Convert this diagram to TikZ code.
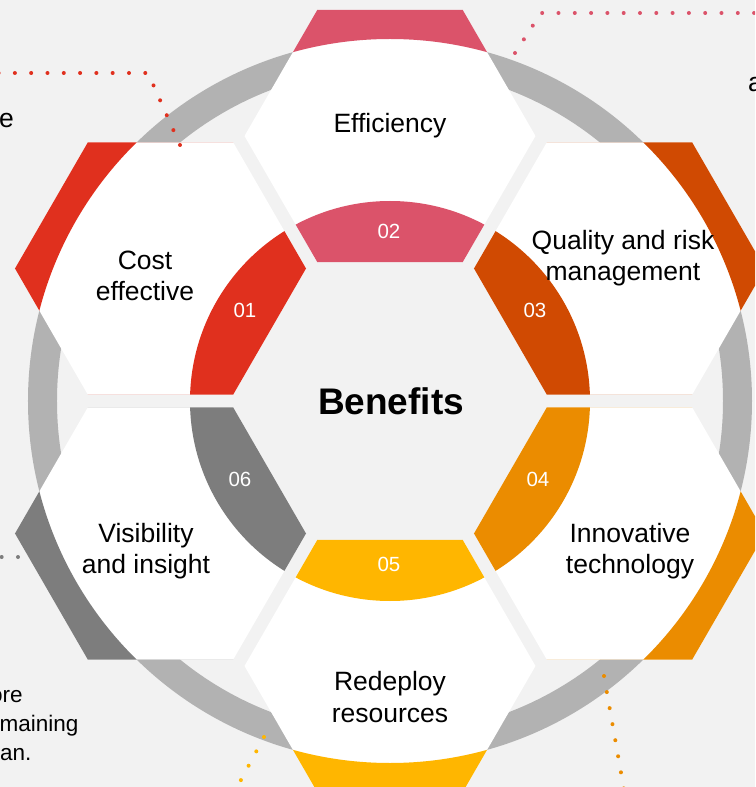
\documentclass[tikz,border=0pt]{standalone}
\usepackage{fontspec}
\setmainfont{Liberation Sans}
\usetikzlibrary{shapes.geometric}

\definecolor{pwcRed}{HTML}{E0301E}
\definecolor{pwcRose}{HTML}{DB536A}
\definecolor{pwcTangerine}{HTML}{D04A02}
\definecolor{pwcOrange}{HTML}{EB8C00}
\definecolor{pwcYellow}{HTML}{FFB600}
\definecolor{pwcGrey}{HTML}{7D7D7D}
\definecolor{ringGrey}{HTML}{B2B2B2}
\definecolor{paper}{HTML}{F2F2F2}

\begin{document}
\begin{tikzpicture}[x=1pt, y=1pt,
	hexa/.style={regular polygon, regular polygon sides=6, minimum size=291pt, inner sep=0pt, outer sep=0pt, fill=white,
		path picture={\fill[#1, even odd rule] (mid) circle (200pt) (mid) circle (362pt)
			(path picture bounding box.south west) rectangle (path picture bounding box.north east);}},
	hexlabel/.style={font=\fontsize{26.5}{31.5}\selectfont, align=center},
	numtext/.style={font=\fontsize{20.5}{24}\selectfont, text=white},
	sidetext/.style={font=\fontsize{22.5}{29}\selectfont, inner sep=0pt},
	dotline/.style={#1, line width=4pt, line cap=round, dash pattern=on 0pt off 16.3pt}]
	\useasboundingbox (-390,-386) rectangle (365,401);
	\clip (-390,-386) rectangle (365,401);
	\fill[paper] (-390,-386) rectangle (365,401);

	% outer ring
	\coordinate (mid) at (0,0);
	\fill[ringGrey, even odd rule] (mid) circle (362pt) (mid) circle (333pt);

	% six hexagons
	\node[hexa=pwcRed] (cost) at (150:265pt) {};
	\node[hexa=pwcRose] (eff) at (90:265pt) {};
	\node[hexa=pwcTangerine] (qual) at (30:265pt) {};
	\node[hexa=pwcOrange] (inno) at (-30:265pt) {};
	\node[hexa=pwcYellow] (rede) at (-90:265pt) {};
	\node[hexa=pwcGrey] (visi) at (-150:265pt) {};

	% labels
	\node[font=\bfseries\fontsize{37}{44}\selectfont] (benefits) at (1,0) {Benefits};
	\node[hexlabel] (efftext) at (0,275) {Efficiency};
	\node[hexlabel] (costtext) at (-245,125) {Cost\\effective};
	\node[hexlabel] (qualtext) at (233,143) {Quality and risk\\management};
	\node[hexlabel] (innotext) at (240,-150) {Innovative\\technology};
	\node[hexlabel] (redetext) at (0,-296) {Redeploy\\resources};
	\node[hexlabel] (visitext) at (-244,-150) {Visibility\\and insight};

	\node[numtext] (n01) at (-145,91) {01};
	\node[numtext] (n02) at (-1,170) {02};
	\node[numtext] (n03) at (145,91) {03};
	\node[numtext] (n04) at (148,-78) {04};
	\node[numtext] (n05) at (-1,-163) {05};
	\node[numtext] (n06) at (-150,-78) {06};

	% leaders to the side notes
	\coordinate (costdot) at (-210,256);
	\coordinate (costbend) at (-242,328);
	\coordinate (costfar) at (-400,328);
	\draw[dotline=pwcRed] (costdot) -- (costbend) -- (costfar);
	\coordinate (effdot) at (125,348);
	\coordinate (effbend) at (151,388);
	\coordinate (efffar) at (400,388);
	\draw[dotline=pwcRose] (effdot) -- (effbend) -- (efffar);
	\coordinate (visidot) at (-372,-156);
	\coordinate (visifar) at (-400,-156);
	\draw[dotline=pwcGrey] (visidot) -- (visifar);
	\coordinate (innodot) at (214,-275);
	\coordinate (innofar) at (236,-400);
	\draw[dotline=pwcOrange] (innodot) -- (innofar);
	\coordinate (rededot) at (-126,-336);
	\coordinate (redefar) at (-156,-392);
	\draw[dotline=pwcYellow] (rededot) -- (redefar);

	% side notes, cut by the frame
	\node[font=\fontsize{26.5}{31.5}\selectfont, inner sep=0pt, anchor=base east] (costnote) at (-376,273) {e};
	\node[font=\fontsize{26.5}{31.5}\selectfont, inner sep=0pt, anchor=base west] (effnote) at (358,309) {a};
	\node[sidetext, anchor=base west] (redenoteA) at (-400,-301) {ore};
	\node[sidetext, anchor=base west] (redenoteB) at (-390.5,-330) {maining};
	\node[sidetext, anchor=base west] (redenoteC) at (-390,-359) {an.};
\end{tikzpicture}
\end{document}
